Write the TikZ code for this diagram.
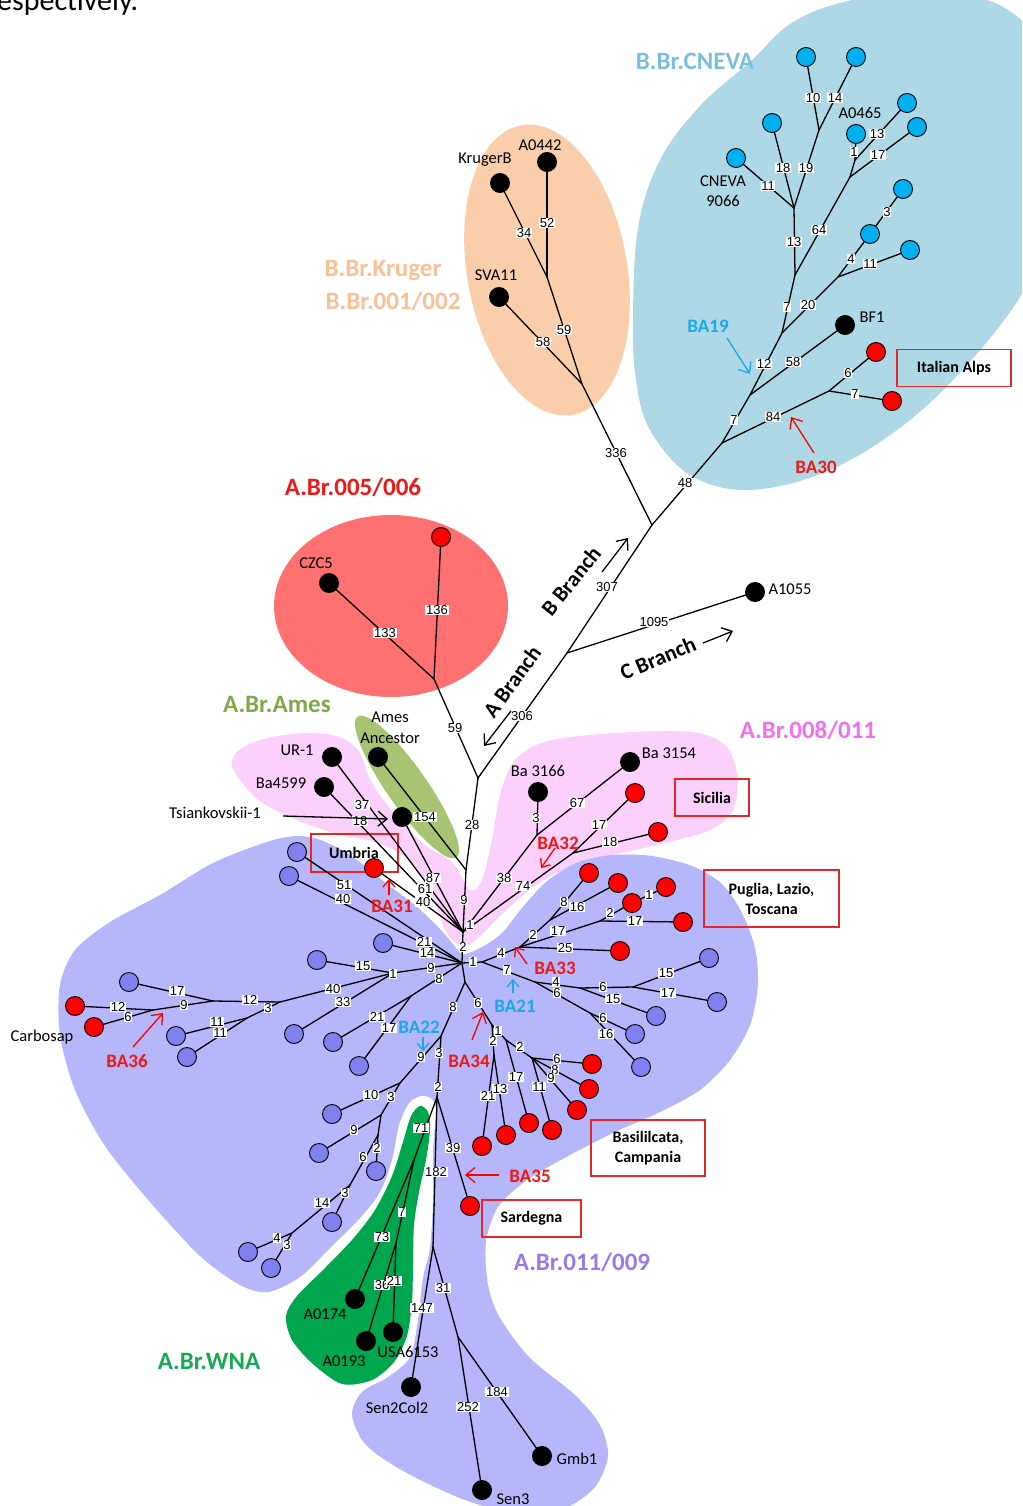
\documentclass[tikz,border=0pt]{standalone}
\usepackage{fontspec}
\setmainfont{Carlito}
\newfontfamily\numfont{Liberation Sans}
\usetikzlibrary{arrows.meta}
\definecolor{cnevablob}{RGB}{174,216,230}
\definecolor{cnevanode}{RGB}{0,176,240}
\definecolor{cnevatext}{RGB}{122,192,222}
\definecolor{cyantext}{RGB}{25,170,230}
\definecolor{krugerblob}{RGB}{250,206,170}
\definecolor{krugertext}{RGB}{249,192,150}
\definecolor{redblob}{RGB}{255,112,112}
\definecolor{redtext}{RGB}{238,24,24}
\definecolor{nodered}{RGB}{255,0,0}
\definecolor{amesblob}{RGB}{166,196,114}
\definecolor{amestext}{RGB}{128,168,72}
\definecolor{pinkblob}{RGB}{251,208,251}
\definecolor{pinktext}{RGB}{240,112,240}
\definecolor{purpleblob}{RGB}{182,182,250}
\definecolor{purplenode}{RGB}{128,128,238}
\definecolor{purpletext}{RGB}{150,122,240}
\definecolor{wnablob}{RGB}{0,166,78}
\definecolor{wnatext}{RGB}{22,170,82}
\definecolor{boxred}{RGB}{228,40,40}
\begin{document}
\begin{tikzpicture}[x=1pt,y=-1pt,
  edge/.style={line width=1.3pt, line cap=round},
  leaf/.style={circle, draw=black, line width=0.9pt, minimum size=19pt, inner sep=0pt},
  blk/.style={leaf, fill=black},
  rd/.style={leaf, fill=nodered},
  cy/.style={leaf, fill=cnevanode},
  pu/.style={leaf, fill=purplenode},
  num/.style={font=\numfont\fontsize{13}{13.5}\selectfont, fill=white, inner sep=0.7pt},
  lbl/.style={font=\fontsize{16.5}{20.5}\selectfont, align=center, inner sep=0pt},
  grp/.style={font=\bfseries\fontsize{25}{28}\selectfont, inner sep=0pt},
  balbl/.style={font=\bfseries\fontsize{19}{21}\selectfont, inner sep=0pt},
  brlbl/.style={font=\bfseries\fontsize{22}{24}\selectfont, inner sep=0pt},
  regbox/.style={draw=boxred, line width=1.2pt, font=\bfseries\fontsize{16}{20}\selectfont, align=center, inner sep=0pt},
  arr/.style={line width=1.3pt, -{Straight Barb[length=9pt,width=15pt]}},
  arrs/.style={line width=1.3pt, -{Straight Barb[length=7pt,width=12pt]}}
]
\useasboundingbox (0,0) rectangle (1022,1506);
\clip (0,0) rectangle (1022,1506);

% ---------- blobs ----------
\fill[pinkblob] plot[smooth cycle, tension=0.55] coordinates {(232,766) (242,748) (272,737) (312,733) (342,738) (360,753) (370,780) (395,815) (425,845) (452,862) (470,890) (482,880) (492,840) (500,795) (515,760) (548,741) (615,733) (690,732) (725,745) (737,775) (734,808) (712,829) (665,843) (612,855) (567,868) (532,888) (502,914) (480,936) (463,947) (447,933) (436,906) (423,877) (403,855) (372,841) (337,834) (292,818) (256,798)};
\fill[amesblob, rotate around={-55:(407,787)}] (407,787) ellipse (86 and 20);
\fill[purpleblob] plot[smooth cycle, tension=0.5] coordinates {(463,954) (482,947) (502,933) (522,908) (546,882) (576,863) (612,855) (652,856) (692,866) (722,884) (742,913) (755,948) (758,985) (750,1025) (730,1060) (700,1090) (660,1112) (615,1132) (570,1155) (527,1180) (498,1207) (486,1242) (488,1285) (500,1318) (530,1358) (575,1395) (600,1425) (608,1456) (595,1487) (565,1508) (520,1514) (465,1500) (405,1472) (366,1445) (352,1415) (362,1392) (388,1377) (410,1357) (418,1320) (423,1278) (430,1248) (433,1200) (433,1150) (436,1112) (432,1099) (421,1096) (409,1103) (399,1125) (392,1160) (380,1192) (360,1218) (330,1248) (300,1277) (268,1292) (240,1285) (200,1256) (150,1202) (105,1146) (75,1090) (60,1035) (60,985) (75,950) (110,922) (160,895) (215,862) (277,839) (310,837) (340,849) (365,866) (387,884) (416,906) (440,929) (453,944)};
\fill[wnablob] plot[smooth cycle, tension=0.5] coordinates {(420,1106) (428,1112) (430,1130) (426,1160) (419,1192) (414,1225) (413,1265) (412,1302) (407,1336) (394,1362) (372,1380) (342,1384) (313,1364) (292,1340) (286,1316) (297,1296) (324,1269) (352,1240) (375,1210) (392,1176) (403,1142) (411,1116)};
\fill[redblob] (391,606) ellipse (117 and 91);
\fill[krugerblob, rotate around={10:(547,270)}] (547,270) ellipse (80 and 147);
\fill[cnevablob] plot[smooth cycle, tension=0.6] coordinates {(633,320) (638,228) (660,160) (700,106) (752,60) (790,24) (840,3) (915,-8) (1005,8) (1060,80) (1060,200) (1030,280) (980,350) (910,420) (830,470) (750,490) (690,475) (650,430) (636,380)};

% ---------- region boxes (under the leaves) ----------
\node[regbox, minimum width=114pt, minimum height=37pt] (bAlps) at (954,368) {Italian Alps};
\node[regbox, minimum width=87pt, minimum height=38pt] (bUmb) at (354.5,853) {};
\node[lbl, font=\bfseries\fontsize{16}{20}\selectfont] (tUmb) at (354,853) {Umbria};
\node[regbox, minimum width=74pt, minimum height=37pt] (bSic) at (712,797.5) {Sicilia};
\node[regbox, minimum width=135pt, minimum height=57pt] (bPug) at (771.5,898.5) {Puglia, Lazio,\\Toscana};
\node[regbox, minimum width=114pt, minimum height=56pt] (bBas) at (648,1148) {Basililcata,\\Campania};
\node[regbox, minimum width=99pt, minimum height=37pt] (bSar) at (531.5,1218.5) {Sardegna};

% ---------- junctions ----------
\foreach \n/\x/\y in {jB/652/525, jK/582/384, jK2/547/277, jC1/722/443, jC2/750/395, jC3/782/333, jC4/795/275, jC5/794/208, jC6/819/130, jC7/850/177, jC8/855/160, jC9/838/277, jC10/829/391, jCc/567/653, jA/478/778, jR/434/679, jAm/466/870, H1/463/932, jP1/537/835, jP2/573/853, H2/462/963, jH/482/962, jQ1/520/947, jQ2/550/920, jQ3/600/921, jS1/535/982, jS2/580/988, jS3/633/987, jS4/590/1013, jL1/393/973, jL2/280/1002, jL3/213/1001, jL4/247/1018, jL5/153/1010, jL6/411/996, H3/465/982, jT1/441/1036, jT2/400/1083, jT3/381/1115, jT4/378/1135, jT5/350/1185, jT6/292/1233, jU1/437/1097, jW1/414/1160, jW2/396/1243, jV1/433/1247, jV2/458/1337, jM1/492/1025, jM2/494/1055, jM3/506/1040, jM4/532/1058}
  \coordinate (\n) at (\x,\y);

% ---------- leaves ----------
\foreach \n/\x/\y in {nA0442/547/162, nKrugerB/500/183, nSVA11/499/297, nBF1/845/325, nA1055/755/592, nCZC5/329/583, nAmes/378/757, nUR1/332/757, nBa4599/324/787, nTsi/402/817, nBa3166/538/792, nBa3154/630/762, nA0174/355/1299, nA0193/366/1341, nUSA/393/1332, nSen2/411/1387, nSen3/482/1490, nGmb1/542/1456}
  \node[blk] (\n) at (\x,\y) {};
\foreach \n/\x/\y in {c1/806/57, c2/856/57, c3/772/123, c4/736/158, c5/856/134, c6/907/103, c7/917/127, c8/870/234, c9/903/189, c10/910/250}
  \node[cy] (\n) at (\x,\y) {};
\foreach \n/\x/\y in {r1/876/352, r2/892/401, nR/441/537, nUmb/374/868, rP1/635/793, rP2/658/832, rQ1/620/951, rQ2/589/873, rQ3/618/883, rQ4/632/903, rQ5/666/887, rQ6/683/922, rM1/482/1146, rM2/506/1135, rM3/529/1123, rM4/592/1064, rM5/589/1089, rM6/577/1110, rM7/552/1130, rSard/470/1206, rL1/75/1006, rL2/94/1027}
  \node[rd] (\n) at (\x,\y) {};
\foreach \n/\x/\y in {pL1/297/852, pL2/289/876, pL3/383/943, pL4/317/960, pL5/294/1034, pL6/176/1036, pL7/187/1057, pL8/129/982, pL9/333/1042, pL10/359/1066, pT1/332/1114, pT2/319/1153, pT3/376/1171, pT4/332/1222, pT5/248/1252, pT6/271/1268, pS1/709/958, pS2/717/1002, pS3/656/1016, pS4/635/1034, pS5/641/1067}
  \node[pu] (\n) at (\x,\y) {};

% ---------- connectors ----------
\foreach \a/\b in {jB/jK, jK/nSVA11, jK/jK2, jK2/nA0442, jK2/nKrugerB,
  jB/jC1, jC1/jC2, jC2/jC3, jC3/jC4, jC4/jC5, jC5/c4, jC5/c3, jC5/jC6, jC6/c1, jC6/c2, jC4/jC7, jC7/c7, jC7/jC8, jC8/c5, jC8/c6, jC3/jC9, jC9/c8, c8/c9, jC9/c10, jC2/nBF1, jC1/jC10, jC10/r1, jC10/r2,
  jB/jCc, jCc/nA1055, jCc/jA, jA/jR, jR/nCZC5, jR/nR, jA/jAm, jAm/nAmes, jAm/H1,
  H1/nUR1, H1/nBa4599, H1/nTsi, H1/nUmb,
  H1/jP1, jP1/nBa3166, jP1/nBa3154, H1/jP2, jP2/rP1, jP2/rP2,
  H1/H2, H2/jH, jH/jQ1, jQ1/rQ1, jQ1/jQ2, jQ2/rQ2, jQ2/rQ3, jQ1/jQ3, jQ3/rQ4, rQ4/rQ5, jQ3/rQ6,
  jH/jS1, jS1/jS2, jS2/jS3, jS3/pS1, jS3/pS2, jS2/pS3, jS1/jS4, jS4/pS4, jS4/pS5,
  H2/pL1, H2/pL2, H2/pL3, H2/jL1, jL1/pL4, jL1/pL5, jL1/jL2, jL2/jL3, jL2/jL4, jL4/pL6, jL4/pL7, jL3/pL8, jL3/jL5, jL5/rL1, jL5/rL2, H2/jL6, jL6/pL9, jL6/pL10,
  H2/H3, H3/jT1, jT1/jT2, jT2/pT1, jT2/jT3, jT3/pT2, jT3/jT4, jT4/pT3, jT4/jT5, jT5/pT4, jT5/jT6, jT6/pT5, jT6/pT6,
  jT1/jU1, jU1/jW1, jW1/nA0174, jW1/jW2, jW2/nA0193, jW2/nUSA, jU1/jV1, jU1/rSard, jV1/nSen2, jV1/jV2, jV2/nSen3, jV2/nGmb1,
  H3/jM1, jM1/jM2, jM2/rM1, jM2/rM2, jM1/jM3, jM3/rM3, jM3/jM4, jM4/rM4, jM4/rM5, jM4/rM6, jM4/rM7}
  \draw[edge] (\a) -- (\b);

% ---------- branch numbers ----------
\foreach \t/\x/\y in {336/616/453, 58/543/342, 59/564/330, 52/547/223, 34/524/233,
  48/685/483, 7/734/420, 12/764/364, 7/787/307, 13/794/242, 11/768/186, 18/783/168, 19/806/168, 10/813/98, 14/835/98, 64/819/230, 17/878/155, 1/854/152, 13/877/134, 20/808/305, 4/851/259, 3/887/212, 11/870/264, 58/793/362, 84/773/417, 6/848/373, 7/855/394,
  307/607/587, 1095/654/622, 306/522/716, 59/455/728, 133/385/633, 136/437/610, 28/472/825, 154/425/817, 9/464/900,
  37/362/805, 18/360/821, 87/433/878, 61/425/889, 40/423/902, 1/470/925, 2/463/947,
  38/504/878, 3/536/818, 67/577/803, 74/523/886, 17/599/825, 18/610/842,
  1/473/962, 4/501/953, 25/565/948, 2/533/935, 8/564/902, 16/577/907, 17/558/931, 2/610/913, 1/649/895, 17/635/921,
  7/507/970, 4/556/982, 6/557/993, 6/603/987, 15/666/973, 17/668/993, 15/613/999, 6/603/1018, 16/606/1034,
  51/344/885, 40/343/899, 21/424/942, 14/427/953, 9/431/968, 1/393/974, 15/363/966, 40/333/989, 33/343/1002, 12/250/1000, 3/268/1008, 11/217/1022, 11/220/1033, 17/177/991, 9/184/1005, 12/118/1007, 6/128/1017, 8/439/979, 21/377/1017, 17/389/1028,
  8/453/1007, 9/421/1057, 3/439/1053, 10/371/1095, 3/391/1097, 9/354/1130, 2/377/1148, 6/363/1157, 3/345/1193, 14/322/1203, 4/277/1238, 3/287/1245,
  2/438/1087, 71/421/1128, 73/382/1237, 7/402/1212, 36/382/1285, 21/394/1281, 182/436/1172, 39/453/1148, 147/422/1308, 31/443/1288, 252/468/1407, 184/497/1392,
  6/478/1003, 2/493/1041, 1/498/1031, 21/488/1096, 13/500/1089, 17/516/1077, 2/520/1047, 6/557/1059, 8/555/1070, 9/551/1078, 11/539/1087}
  \node[num] (lb\x-\y) at (\x,\y) {\t};

% ---------- names ----------
\node[lbl] (tA0442) at (540,145) {A0442};
\node[lbl] (tKrugerB) at (485,160) {KrugerB};
\node[lbl] (tSVA11) at (496,275) {SVA11};
\node[lbl] (tCNEVA) at (723,191) {CNEVA\\9066};
\node[lbl] (tA0465) at (860,113) {A0465};
\node[lbl] (tBF1) at (872,317) {BF1};
\node[lbl] (tA1055) at (790,589) {A1055};
\node[lbl] (tCZC5) at (316,563) {CZC5};
\node[lbl] (tAmes) at (390,728) {Ames\\Ancestor};
\node[lbl] (tUR1) at (297,750) {UR-1};
\node[lbl] (tBa4599) at (281,783) {Ba4599};
\node[lbl] (tTsi) at (215,813) {Tsiankovskii-1};
\node[lbl] (tBa3166) at (538,771) {Ba 3166};
\node[lbl] (tBa3154) at (669,753) {Ba 3154};
\node[lbl] (tCarbo) at (42,1037) {Carbosap};
\node[lbl] (tA0174) at (325,1314) {A0174};
\node[lbl] (tA0193) at (344,1361) {A0193};
\node[lbl] (tUSA) at (408,1352) {USA6153};
\node[lbl] (tSen2) at (397,1408) {Sen2Col2};
\node[lbl] (tSen3) at (513,1499) {Sen3};
\node[lbl] (tGmb1) at (577,1459) {Gmb1};
\node[lbl, font=\fontsize{30}{32}\selectfont, anchor=base west] (tTop) at (-3,11) {espectively.};

% ---------- group labels ----------
\node[grp, text=cnevatext] (gCNEVA) at (695,61) {B.Br.CNEVA};
\node[grp, text=krugertext] (gKr1) at (383,271) {B.Br.Kruger};
\node[grp, text=krugertext] (gKr2) at (393,301) {B.Br.001/002};
\node[grp, text=redtext] (gRed) at (353,487) {A.Br.005/006};
\node[grp, text=amestext] (gAmes) at (277,704) {A.Br.Ames};
\node[grp, text=pinktext] (gPink) at (808,730) {A.Br.008/011};
\node[grp, text=purpletext] (gPur) at (582,1262) {A.Br.011/009};
\node[grp, text=wnatext] (gWNA) at (209,1361) {A.Br.WNA};

% ---------- BA markers ----------
\coordinate (aBA19s) at (727,338); \coordinate (aBA19e) at (750,374);
\coordinate (aBA30s) at (814,453); \coordinate (aBA30e) at (791,417);
\coordinate (aBA31s) at (389,895); \coordinate (aBA31e) at (389,879);
\coordinate (aBA32s) at (555,848); \coordinate (aBA32e) at (541,868);
\coordinate (aBA33s) at (527,964); \coordinate (aBA33e) at (515,947);
\coordinate (aBA21s) at (513,993); \coordinate (aBA21e) at (513,979);
\coordinate (aBA22s) at (423,1037); \coordinate (aBA22e) at (423,1051);
\coordinate (aBA34s) at (472,1040); \coordinate (aBA34e) at (483,1012);
\coordinate (aBA35s) at (499,1175); \coordinate (aBA35e) at (465,1175);
\coordinate (aBA36s) at (133,1047); \coordinate (aBA36e) at (163,1013);
\draw[arr, cyantext] (aBA19s) -- (aBA19e);
\draw[arr, nodered] (aBA30s) -- (aBA30e);
\draw[arrs, nodered] (aBA31s) -- (aBA31e);
\draw[arrs, nodered] (aBA32s) -- (aBA32e);
\draw[arrs, nodered] (aBA33s) -- (aBA33e);
\draw[arrs, cyantext] (aBA21s) -- (aBA21e);
\draw[arrs, cyantext] (aBA22s) -- (aBA22e);
\draw[arr, nodered] (aBA34s) -- (aBA34e);
\draw[arr, nodered] (aBA35s) -- (aBA35e);
\draw[arr, nodered] (aBA36s) -- (aBA36e);
\node[balbl, text=cyantext] (tBA19) at (708,326) {BA19};
\node[balbl, text=redtext] (tBA30) at (816,467) {BA30};
\node[balbl, text=redtext] (tBA31) at (392,906) {BA31};
\node[balbl, text=redtext] (tBA32) at (558,843) {BA32};
\node[balbl, text=redtext] (tBA33) at (555,968) {BA33};
\node[balbl, text=cyantext] (tBA21) at (515,1006) {BA21};
\node[balbl, text=cyantext] (tBA22) at (419,1027) {BA22};
\node[balbl, text=redtext] (tBA34) at (469,1061) {BA34};
\node[balbl, text=redtext] (tBA35) at (530,1176) {BA35};
\node[balbl, text=redtext] (tBA36) at (127,1061) {BA36};

% ---------- Tsiankovskii pointer and branch arrows ----------
\coordinate (aTs) at (283,816); \coordinate (aTe) at (388,819);
\draw[arr] (aTs) -- (aTe);
\coordinate (aBs) at (602,572); \coordinate (aBe) at (628,538);
\coordinate (aCs) at (703,643); \coordinate (aCe) at (733,631);
\coordinate (aAs) at (511,711); \coordinate (aAe) at (484,746);
\draw[arr] (aBs) -- (aBe);
\draw[arr] (aCs) -- (aCe);
\draw[arr] (aAs) -- (aAe);
\node[brlbl, rotate=51] (tBBr) at (571,581) {B Branch};
\node[brlbl, rotate=23] (tCBr) at (658,658) {C Branch};
\node[brlbl, rotate=54] (tABr) at (512,682) {A Branch};
\end{tikzpicture}
\end{document}
